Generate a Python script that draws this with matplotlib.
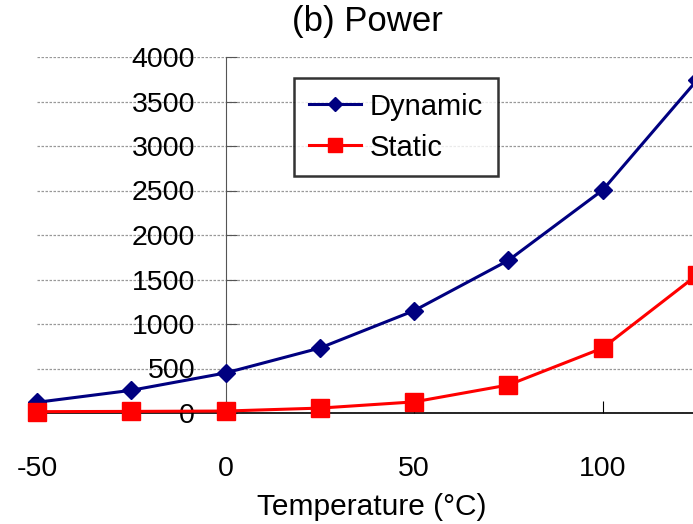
import matplotlib
matplotlib.use("Agg")
import matplotlib.pyplot as plt

# values
temperature = [-50, -25, 0, 25, 50, 75, 100, 125]
dynamic = [120, 255, 450, 730, 1150, 1715, 2505, 3740]
static = [15, 18, 22, 55, 125, 315, 730, 1550]
y_ticks = [0, 500, 1000, 1500, 2000, 2500, 3000, 3500, 4000]
x_ticks = [-50, 0, 50, 100]

plt.rcParams["font.family"] = ["Liberation Sans", "DejaVu Sans"]
plt.rcParams["axes.unicode_minus"] = False

fig = plt.figure(figsize=(6.93, 5.24), dpi=100)
ax = fig.add_axes([37 / 693, 111 / 524, 660 / 693, 356 / 524])

ax.plot(temperature, dynamic, color="#000080", lw=2.2, marker="D", ms=9.5,
        label="Dynamic", clip_on=False, zorder=4)
ax.plot(temperature, static, color="#ff0000", lw=2.2, marker="s", ms=13,
        label="Static", clip_on=False, zorder=5)

ax.set_xlim(-50, 125)
ax.set_ylim(0, 4000)
ax.set_yticks(y_ticks)
ax.set_xticks(x_ticks)

ax.spines["top"].set_visible(False)
ax.spines["right"].set_visible(False)
ax.spines["left"].set_position(("data", 0))
ax.spines["left"].set_color("#555555")
ax.spines["left"].set_linewidth(0.8)
ax.spines["bottom"].set_linewidth(1.2)
ax.spines["bottom"].set_zorder(3)

ax.tick_params(axis="y", direction="in", length=8, width=0.8, color="#555555",
               labelsize=20.5, pad=22)
ax.tick_params(axis="x", direction="in", length=9, width=0.8,
               labelsize=20.5, pad=31)

ax.yaxis.grid(True, linestyle=(0, (2, 1.2)), color="#999999", lw=0.9)
ax.set_axisbelow(True)

ax.set_xlabel("Temperature (\u00b0C)", fontsize=21.5)
ax.xaxis.set_label_coords(335 / 660, -80 / 356)

fig.text(367 / 693, 1 - 21 / 524, "(b) Power", fontsize=25,
         ha="center", va="center")

leg = ax.legend(loc="upper left", bbox_to_anchor=(294 / 693, 1 - 78 / 524),
                bbox_transform=fig.transFigure, fontsize=21, frameon=True,
                fancybox=False, handlelength=1.8, borderpad=0.5,
                labelspacing=0.45, handletextpad=0.3, borderaxespad=0,
                markerscale=0.8)
leg.get_frame().set_edgecolor("black")
leg.get_frame().set_linewidth(1.8)

fig.savefig("out.png", dpi=100)
